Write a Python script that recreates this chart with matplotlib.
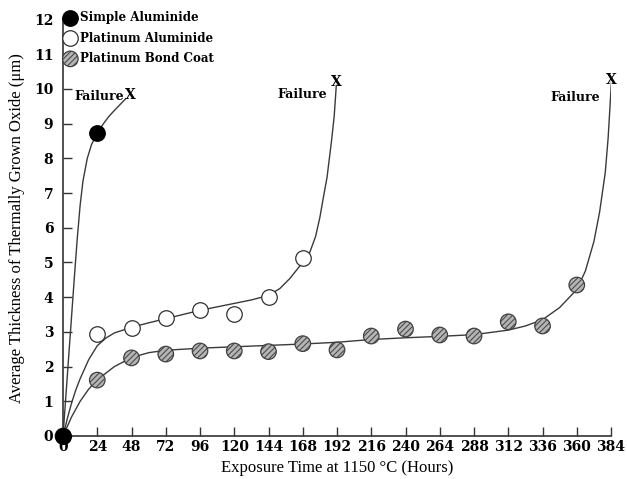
import matplotlib
matplotlib.use('Agg')
from matplotlib import pyplot as plt

plt.rcParams['hatch.color'] = '#505050'
plt.rcParams['hatch.linewidth'] = 0.7

# measured points
hours = [0, 24, 48, 72, 96, 120, 144, 168, 192, 216, 240, 264, 288, 312, 336, 360]
simple_x = [0, 24]
simple_y = [0, 8.72]
pt_al_x = hours[:8]
pt_al_y = [0, 2.93, 3.1, 3.4, 3.64, 3.52, 4.0, 5.12]
bond_x = hours
bond_y = [0, 1.61, 2.25, 2.36, 2.45, 2.45, 2.43, 2.66, 2.48, 2.88, 3.08, 2.91, 2.88, 3.29, 3.17, 4.35]

# fitted curves
simple_fit_x = [0, 2, 4, 6, 8, 10, 12, 14, 17, 20, 24, 28, 32, 36, 40, 44]
simple_fit_y = [0, 1.15, 2.3, 3.45, 4.6, 5.7, 6.65, 7.35, 8.0, 8.4, 8.72, 8.98, 9.2, 9.38, 9.55, 9.72]
pt_fit_x = [0, 3, 6, 9, 12, 18, 24, 30, 36, 48, 60, 72, 84, 96, 108, 120, 132, 144,
            152, 159, 165, 170, 173, 177, 180, 183, 185, 188, 190, 191.5]
pt_fit_y = [0, 0.5, 0.95, 1.33, 1.65, 2.2, 2.6, 2.82, 2.97, 3.13, 3.26, 3.38, 3.5, 3.62,
            3.72, 3.82, 3.92, 4.05, 4.25, 4.54, 4.85, 5.1, 5.3, 5.75, 6.3, 7.0, 7.45, 8.45, 9.2, 10.1]
bond_fit_x = [0, 6, 12, 18, 24, 36, 48, 60, 72, 96, 120, 144, 168, 192, 216, 240, 264, 288,
              312, 324, 336, 348, 360, 366, 372, 376, 380, 382, 383.3, 384.3]
bond_fit_y = [0, 0.55, 1.0, 1.35, 1.62, 2.0, 2.26, 2.4, 2.47, 2.53, 2.57, 2.61, 2.65, 2.7,
              2.78, 2.83, 2.87, 2.92, 3.05, 3.17, 3.35, 3.7, 4.22, 4.75, 5.6, 6.45, 7.6, 8.6, 9.5, 10.2]

# failure labels: (text x, text y, X x, X y)
fail_simple = (42.5, 9.78, 47.5, 9.82)
fail_pt = (185, 9.84, 191.5, 10.2)
fail_bond = (376, 9.76, 384.5, 10.25)

fig = plt.figure(figsize=(6.27, 4.79), dpi=100)
ax = fig.add_axes([0.1005, 0.0898, 0.874, 0.8695])

line_kw = dict(color='#3a3a3a', lw=1.0, zorder=2)
ax.plot(simple_fit_x, simple_fit_y, **line_kw)
ax.plot(pt_fit_x, pt_fit_y, **line_kw)
ax.plot(bond_fit_x, bond_fit_y, **line_kw)

ms = 125
h3 = ax.scatter(bond_x, bond_y, s=ms, facecolor='#b4b4b4', edgecolor='#404040',
                hatch='//////', linewidth=0.9, zorder=3, clip_on=False)
h2 = ax.scatter(pt_al_x, pt_al_y, s=ms, facecolor='white', edgecolor='#303030',
                linewidth=0.9, zorder=4, clip_on=False)
h1 = ax.scatter(simple_x, simple_y, s=ms, facecolor='black', edgecolor='black',
                linewidth=0.9, zorder=5, clip_on=False)

bold_serif = dict(family='DejaVu Serif', weight='bold')
for tx, ty, xx, xy in [fail_simple, fail_pt, fail_bond]:
    ax.text(tx, ty, 'Failure', ha='right', va='center', fontsize=9, **bold_serif)
    ax.text(xx, xy, 'X', ha='center', va='center', fontsize=10, **bold_serif)

ax.legend([h1, h2, h3], ['Simple Aluminide', 'Platinum Aluminide', 'Platinum Bond Coat'],
          loc='upper left', bbox_to_anchor=(-0.015, 1.04), frameon=False,
          prop=dict(family='DejaVu Serif', weight='bold', size=8.6),
          handletextpad=0.25, labelspacing=0.62, borderpad=0.2, handlelength=1.2,
          scatterpoints=1, markerscale=1.0)

ax.set_xlim(0, 384)
ax.set_ylim(0, 12)
ax.set_xticks(hours + [384])
ax.set_yticks(range(13))
for lab in ax.get_xticklabels() + ax.get_yticklabels():
    lab.set_family('DejaVu Serif')
    lab.set_weight('bold')
    lab.set_fontsize(10)
ax.tick_params(direction='in', length=6.5, width=1.0, color='#333333')
ax.tick_params(axis='y', pad=7)
ax.tick_params(axis='x', pad=3)

for s in ['top', 'right']:
    ax.spines[s].set_visible(False)
for s in ['left', 'bottom']:
    ax.spines[s].set_linewidth(1.2)
    ax.spines[s].set_color('#333333')

ax.set_xlabel('Exposure Time at 1150 \u00b0C (Hours)', family='Liberation Serif',
              fontsize=12, labelpad=4)
ax.set_ylabel('Average Thickness of Thermally Grown Oxide (\u03bcm)', family='Liberation Serif',
              fontsize=12, labelpad=6)

fig.savefig('out.png', dpi=100)
